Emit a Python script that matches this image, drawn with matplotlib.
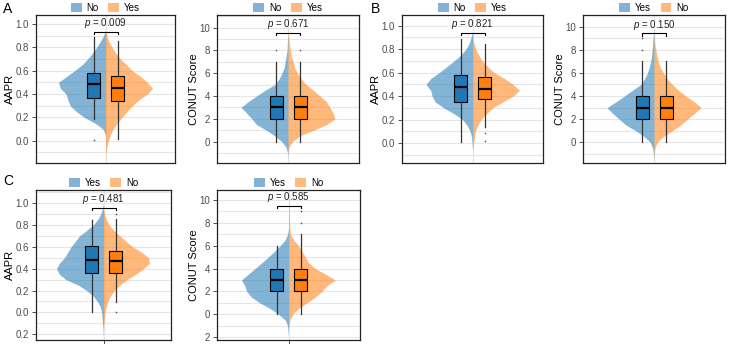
import matplotlib
matplotlib.use('Agg')
import matplotlib.pyplot as plt
from matplotlib.patches import Patch
import numpy as np

plt.rcParams['font.family'] = ['Liberation Sans', 'DejaVu Sans']
plt.rcParams['mathtext.fontset'] = 'custom'
plt.rcParams['mathtext.it'] = 'Liberation Sans:italic'
plt.rcParams['mathtext.rm'] = 'Liberation Sans'

# ---------------- data ----------------
# density profile grids (y levels at which half-violin widths were read)
aapr_grid = [-0.25, -0.2, -0.15, -0.1, -0.05, 0.0, 0.05, 0.1, 0.15, 0.2, 0.25, 0.3, 0.35,
             0.4, 0.45, 0.5, 0.55, 0.6, 0.65, 0.7, 0.75, 0.8, 0.85, 0.9, 0.95, 1.0]
conut_grid = [-2, -1.5, -1, -0.5, 0, 0.5, 1, 1.5, 2, 2.5, 3, 3.5, 4, 4.5, 5, 5.5, 6, 6.5,
              7, 7.5, 8, 8.5, 9, 9.5, 10, 10.5]

# relative density (percent of max)
a_aapr_no = [0, 0, 0, 0, 0, 0, 0, 5, 22, 45, 62, 75, 80, 84, 96, 100, 83, 66, 50, 38, 28, 19, 11, 4, 0, 0]
a_aapr_yes = [0, 0, 0, 1, 3, 6, 10, 16, 25, 35, 46, 57, 71, 89, 100, 89, 75, 57, 45, 32, 22, 14, 7, 3, 0, 0]
a_conut_no = [0, 0, 1, 4, 13, 28, 46, 67, 77, 88, 100, 85, 67, 49, 28, 19, 13, 8, 6, 4, 2, 1.5, 1, 0, 0, 0]
a_conut_yes = [0, 0, 0, 2, 9, 25, 54, 82, 100, 96, 89, 82, 68, 54, 39, 28, 20, 14, 11, 7, 5, 3, 2, 1, 0, 0]
b_aapr_no = [0, 0, 0, 0, 0, 1, 2, 5, 11, 21, 39, 61, 79, 86, 89, 99, 89, 71, 55, 39, 25, 14, 7, 3, 0, 0]
b_aapr_yes = [0, 0, 0, 0, 1, 2, 4, 6, 11, 18, 29, 43, 64, 86, 100, 86, 68, 46, 32, 21, 13, 7, 3, 1, 0, 0]
b_conut_yes = [0, 0, 1, 3, 8, 21, 39, 60, 74, 88, 100, 81, 63, 46, 28, 20, 14, 10, 7, 5, 4, 3, 2, 1, 0, 0]
b_conut_no = [0, 0, 1, 2, 7, 20, 39, 57, 71, 86, 100, 86, 68, 52, 39, 28, 20, 13, 9, 6, 4, 2, 1, 0, 0, 0]
c_aapr_yes = [0, 0.5, 1, 2, 3, 4, 7, 13, 22, 36, 54, 80, 94, 100, 94, 83, 76, 69, 60, 51, 36, 22, 12, 6, 2, 0]
c_aapr_no = [0, 0, 0, 1, 2, 3, 6, 9, 15, 23, 35, 50, 69, 85, 98, 96, 81, 62, 48, 35, 22, 12, 6, 2, 0, 0]
c_conut_yes = [0, 1, 2, 7, 21, 39, 61, 79, 89, 93, 100, 86, 71, 57, 43, 30, 18, 7, 2, 0, 0, 0, 0, 0, 0, 0]
c_conut_no = [0, 0, 1, 3, 9, 21, 39, 57, 71, 82, 100, 79, 57, 43, 36, 29, 21, 11, 4, 3, 2, 2, 1.5, 1, 0.7, 0]

# box statistics (q1, median, q3, whisker low, whisker high, outliers)
a_aapr_no_box = dict(q1=0.366, med=0.489, q3=0.58, whislo=0.186, whishi=0.886, fliers=[0.01])
a_aapr_yes_box = dict(q1=0.343, med=0.451, q3=0.557, whislo=0.014, whishi=0.857, fliers=[])
a_conut_no_box = dict(q1=2, med=3, q3=4, whislo=0, whishi=7, fliers=[8])
a_conut_yes_box = dict(q1=2, med=3, q3=4, whislo=0, whishi=7, fliers=[8])
b_aapr_no_box = dict(q1=0.348, med=0.482, q3=0.58, whislo=0.014, whishi=0.887, fliers=[])
b_aapr_yes_box = dict(q1=0.38, med=0.465, q3=0.567, whislo=0.142, whishi=0.84, fliers=[0.09, 0.015])
b_conut_yes_box = dict(q1=2, med=3, q3=4, whislo=0, whishi=7, fliers=[8, 9])
b_conut_no_box = dict(q1=2, med=3, q3=4, whislo=0, whishi=7, fliers=[])
c_aapr_yes_box = dict(q1=0.358, med=0.48, q3=0.609, whislo=0.006, whishi=0.847, fliers=[])
c_aapr_no_box = dict(q1=0.358, med=0.471, q3=0.566, whislo=0.098, whishi=0.856, fliers=[0.006, 0.9])
c_conut_yes_box = dict(q1=2, med=3, q3=4, whislo=0, whishi=6, fliers=[])
c_conut_no_box = dict(q1=2, med=3, q3=4, whislo=0, whishi=7, fliers=[8, 9])

p_values = ['0.009', '0.671', '0.821', '0.150', '0.481', '0.585']
legend_labels = [('No', 'Yes'), ('No', 'Yes'), ('No', 'Yes'), ('Yes', 'No'), ('Yes', 'No'), ('Yes', 'No')]
ylabels = ['AAPR', 'CONUT Score', 'AAPR', 'CONUT Score', 'AAPR', 'CONUT Score']

aapr_ticks = [0.0, 0.2, 0.4, 0.6, 0.8, 1.0]
aapr_ticklabels = ['0.0', '0.2', '0.4', '0.6', '0.8', '1.0']
conut_ticks = [0, 2, 4, 6, 8, 10]
conut_ticklabels = ['0', '2', '4', '6', '8', '10']
c_aapr_ticks = [-0.2, 0.0, 0.2, 0.4, 0.6, 0.8, 1.0]
c_aapr_ticklabels = ['0.2', '0.0', '0.2', '0.4', '0.6', '0.8', '1.0']
c_conut_ticks = [-2, 0, 2, 4, 6, 8, 10]
c_conut_ticklabels = ['2', '0', '2', '4', '6', '8', '10']

# ---------------- style ----------------
W, H = 729, 344
BLUE, ORANGE = '#1f77b4', '#ff7f0e'
BLUE_L, ORANGE_L = '#82b2d6', '#ffb97c'

fig = plt.figure(figsize=(W / 100, H / 100), dpi=100)

def rect(x0, y0, x1, y1):
    return [x0 / W, 1 - y1 / H, (x1 - x0) / W, (y1 - y0) / H]

panels = [
    dict(r=rect(36, 15, 175, 163), grid=aapr_grid, lw=a_aapr_no, rw=a_aapr_yes,
         lb=a_aapr_no_box, rb=a_aapr_yes_box, ylim=(-0.19, 1.077), ticks=aapr_ticks,
         tl=aapr_ticklabels, minor=np.arange(-0.1, 1.11, 0.2), by=0.93, xt=False),
    dict(r=rect(217, 15, 359, 163), grid=conut_grid, lw=a_conut_no, rw=a_conut_yes,
         lb=a_conut_no_box, rb=a_conut_yes_box, ylim=(-1.87, 11.1), ticks=conut_ticks,
         tl=conut_ticklabels, minor=np.arange(-1, 11.1, 2), by=9.5, xt=False),
    dict(r=rect(402, 15, 543, 163), grid=aapr_grid, lw=b_aapr_no, rw=b_aapr_yes,
         lb=b_aapr_no_box, rb=b_aapr_yes_box, ylim=(-0.168, 1.09), ticks=aapr_ticks,
         tl=aapr_ticklabels, minor=np.arange(-0.1, 1.11, 0.2), by=0.935, xt=False),
    dict(r=rect(583, 15, 725, 163), grid=conut_grid, lw=b_conut_yes, rw=b_conut_no,
         lb=b_conut_yes_box, rb=b_conut_no_box, ylim=(-1.79, 11.01), ticks=conut_ticks,
         tl=conut_ticklabels, minor=np.arange(-1, 11.1, 2), by=9.42, xt=False),
    dict(r=rect(36, 190, 171, 340), grid=aapr_grid, lw=c_aapr_yes, rw=c_aapr_no,
         lb=c_aapr_yes_box, rb=c_aapr_no_box, ylim=(-0.253, 1.12), ticks=c_aapr_ticks,
         tl=c_aapr_ticklabels, minor=np.arange(-0.1, 1.11, 0.2), by=0.954, xt=True),
    dict(r=rect(217, 190, 360, 340), grid=conut_grid, lw=c_conut_yes, rw=c_conut_no,
         lb=c_conut_yes_box, rb=c_conut_no_box, ylim=(-2.25, 10.87), ticks=c_conut_ticks,
         tl=c_conut_ticklabels, minor=np.arange(-1, 11.1, 2), by=9.47, xt=True),
]

for i, p in enumerate(panels):
    ax = fig.add_axes(p['r'])
    wpx = p['r'][2] * W
    u = 2.0 / wpx  # data units per pixel (xlim -1..1)
    half = 47 * u
    off = 12 * u
    bw = 13 * u
    ax.set_xlim(-1, 1)
    ax.set_ylim(*p['ylim'])
    # grid
    for t in list(p['ticks']) + list(p['minor']):
        ax.axhline(t, color='#e6e6e6', lw=0.8, zorder=0)
    ax.axvline(0, color='#e6e6e6', lw=0.8, zorder=0)
    g = np.array(p['grid'], dtype=float)
    lw_ = np.array(p['lw'], dtype=float) / 100.0
    rw_ = np.array(p['rw'], dtype=float) / 100.0
    ax.fill_betweenx(g, -lw_ * half, 0, color=BLUE, alpha=0.55, lw=0, zorder=1)
    ax.fill_betweenx(g, 0, rw_ * half, color=ORANGE, alpha=0.55, lw=0, zorder=1)
    for pos, st, col in [(-off, p['lb'], BLUE), (off, p['rb'], ORANGE)]:
        ax.bxp([st], positions=[pos], widths=bw, patch_artist=True, showcaps=False,
               boxprops=dict(facecolor=col, edgecolor='black', lw=0.8),
               medianprops=dict(color='black', lw=1.6),
               whiskerprops=dict(color='#333333', lw=0.9),
               flierprops=dict(marker='o', markersize=1.2, markerfacecolor='#555555',
                               markeredgecolor='none'),
               manage_ticks=False, zorder=3)
    # bracket with p-value
    rng = p['ylim'][1] - p['ylim'][0]
    by = p['by']
    d = 0.015 * rng
    ax.plot([-off, -off, off, off], [by - d, by, by, by - d], color='black', lw=0.8, zorder=4)
    ax.text(0, by + 0.012 * rng, r'$\it{p}$ = ' + p_values[i], ha='center', va='bottom',
            fontsize=7, color='#222222', zorder=5)
    # axes style
    ax.set_yticks(p['ticks'])
    ax.set_yticklabels(p['tl'])
    ax.tick_params(axis='y', length=3, width=0.6, labelsize=7, colors='#333333', pad=2)
    ax.tick_params(axis='y', labelcolor='#4d4d4d')
    if p['xt']:
        ax.set_xticks([0])
        ax.set_xticklabels([''])
        ax.tick_params(axis='x', length=3, width=0.6, colors='#333333')
    else:
        ax.set_xticks([])
    for s in ax.spines.values():
        s.set_linewidth(0.9)
        s.set_color('#222222')
    ax.set_ylabel(ylabels[i], fontsize=8, labelpad=0.5)
    handles = [Patch(facecolor=BLUE_L, edgecolor='none', label=legend_labels[i][0]),
               Patch(facecolor=ORANGE_L, edgecolor='none', label=legend_labels[i][1])]
    ax.legend(handles=handles, loc='lower center', bbox_to_anchor=(0.5, 1.0), ncol=2,
              frameon=False, fontsize=7, handlelength=1.1, handleheight=1.1,
              handletextpad=0.5, columnspacing=1.0, borderaxespad=0.1, borderpad=0.1)

fig.text(3 / W, 1 - 2 / H, 'A', fontsize=10, va='top', ha='left')
fig.text(371 / W, 1 - 2 / H, 'B', fontsize=10, va='top', ha='left')
fig.text(3 / W, 1 - 174 / H, 'C', fontsize=10, va='top', ha='left')

fig.savefig('out.png', dpi=100)
